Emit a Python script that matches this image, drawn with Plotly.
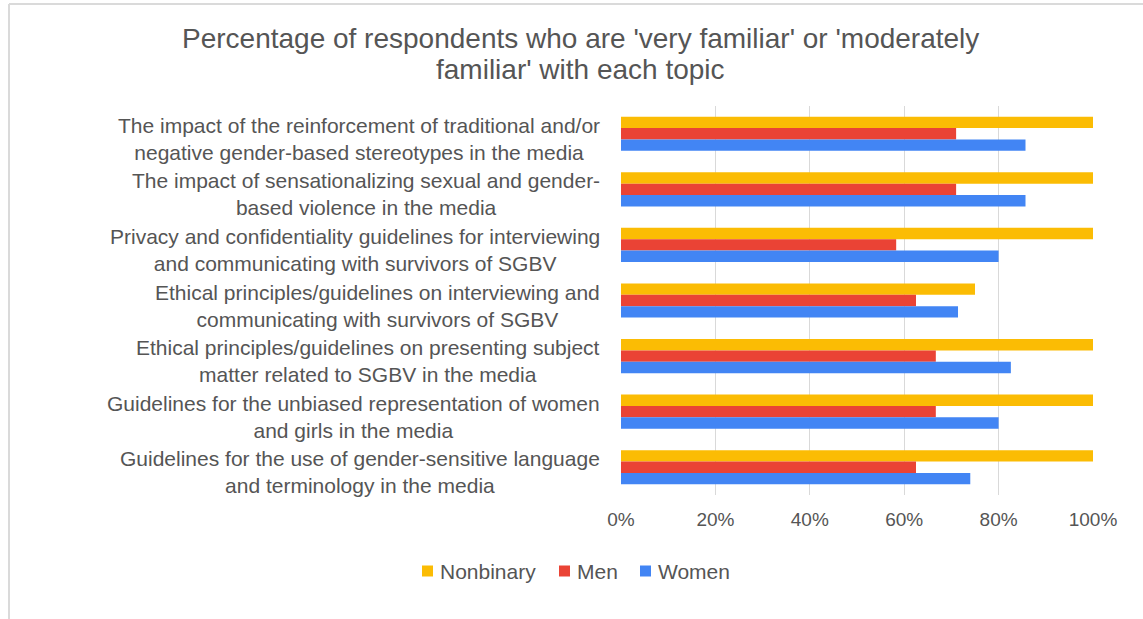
import plotly.graph_objects as go

# Topics, listed top to bottom (each one is drawn on two lines)
topics = [
    ["The impact of the reinforcement of traditional and/or",
     "negative gender-based stereotypes in the media"],
    ["The impact of sensationalizing sexual and gender-",
     "based violence in the media"],
    ["Privacy and confidentiality guidelines for interviewing",
     "and communicating with survivors of SGBV"],
    ["Ethical principles/guidelines on interviewing and",
     "communicating with survivors of SGBV"],
    ["Ethical principles/guidelines on presenting subject",
     "matter related to SGBV in the media"],
    ["Guidelines for the unbiased representation of women",
     "and girls in the media"],
    ["Guidelines for the use of gender-sensitive language",
     "and terminology in the media"],
]

# Share (%) of respondents very or moderately familiar with each topic
nonbinary = [100, 100, 100, 75, 100, 100, 100]
men = [71, 71, 58.3, 62.5, 66.7, 66.7, 62.5]
women = [85.7, 85.7, 80, 71.4, 82.6, 80, 74]

series_names = ["Nonbinary", "Men", "Women"]
series_colors = ["#FBBC04", "#EA4335", "#4285F4"]

x_ticks = [0, 20, 40, 60, 80, 100]
x_tick_labels = ["0%", "20%", "40%", "60%", "80%", "100%"]

title_lines = [
    "Percentage of respondents who are 'very familiar' or 'moderately",
    "familiar' with each topic",
]

FONT = "Liberation Sans, Arial, sans-serif"
TEXT = "#555555"
W, H = 1143, 619
L, R, T, B = 621, 50, 106, 124
PW, PH = W - L - R, H - T - B


def px_x(px):
    return (px - L) / PW


def px_y(py):
    return (H - B - py) / PH


fig = go.Figure()
for name, vals, col in zip(series_names, [nonbinary, men, women], series_colors):
    fig.add_trace(go.Bar(
        name=name, y=list(range(len(topics))), x=vals, orientation="h",
        marker=dict(color=col, line=dict(width=0)),
        hoverinfo="x+name",
    ))

# Category labels: right-aligned block next to the axis, lines centred
for i, lines in enumerate(topics):
    fig.add_annotation(
        x=px_x(601), xref="paper", xanchor="right",
        y=i, yref="y", yanchor="middle", yshift=-5,
        text="<br>".join(lines), align="center", showarrow=False,
        borderpad=0,
        font=dict(family=FONT, size=21, color=TEXT),
    )

# Two-line chart title
for line, cy in zip(title_lines, [39, 69]):
    fig.add_annotation(
        x=px_x(580), xref="paper", xanchor="center",
        y=px_y(cy), yref="paper", yanchor="middle",
        text=line, showarrow=False, borderpad=0,
        font=dict(family=FONT, size=28, color=TEXT),
    )

# Legend: small colour square followed by the series name
legend_left = [422, 559, 640]
legend_cy = 571
sq = 11
for name, col, lx in zip(series_names, series_colors, legend_left):
    fig.add_shape(
        type="rect", xref="paper", yref="paper",
        x0=px_x(lx), x1=px_x(lx + sq),
        y0=px_y(legend_cy + sq / 2), y1=px_y(legend_cy - sq / 2),
        fillcolor=col, line=dict(width=0),
    )
    fig.add_annotation(
        x=px_x(lx + sq + 5), xref="paper", xanchor="left",
        y=px_y(legend_cy), yref="paper", yanchor="middle",
        text=name, showarrow=False,
        font=dict(family=FONT, size=21, color=TEXT),
    )

# Light frame along the top and left edges
frame = dict(color="#DADADA", width=2)
fig.add_shape(type="line", xref="paper", yref="paper",
              x0=px_x(9), x1=px_x(W + 2), y0=px_y(4), y1=px_y(4), line=frame)
fig.add_shape(type="line", xref="paper", yref="paper",
              x0=px_x(9), x1=px_x(9), y0=px_y(4), y1=px_y(H + 2), line=frame)

fig.update_layout(
    width=W, height=H,
    margin=dict(l=L, r=R, t=T, b=B, pad=0),
    paper_bgcolor="white", plot_bgcolor="white",
    barmode="group", bargap=0.385, bargroupgap=0,
    xaxis=dict(
        range=[0, 100], tickvals=x_ticks, ticktext=x_tick_labels,
        showgrid=True, gridcolor="#D9D9D9", gridwidth=1,
        zeroline=False, showline=False, ticks="",
        ticklabelstandoff=11,
        tickfont=dict(family=FONT, size=19, color=TEXT),
        fixedrange=True,
    ),
    yaxis=dict(
        range=[len(topics) - 0.5, -0.5],
        showticklabels=False, showgrid=False, zeroline=False, ticks="",
        fixedrange=True,
    ),
    showlegend=False,
)

fig.write_html("out.html")
